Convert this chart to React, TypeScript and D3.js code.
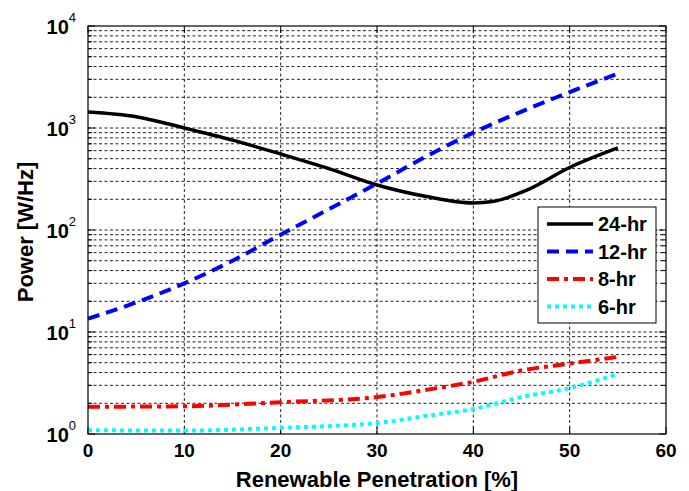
import React, { useEffect, useRef } from "react";
import * as d3 from "d3";

// Renewable penetration [%] and power [W/Hz] per storage duration
const pen24 = [0, 5, 10, 15, 20, 25, 30, 35, 40, 42, 45.5, 50, 55];
const pow24 = [1435, 1290, 1000, 760, 556, 400, 276, 214, 184, 190, 245, 410, 637];

const pen12 = [0, 5, 10, 15, 20, 25, 30, 35, 40, 45, 50, 55];
const pow12 = [13.5, 19.5, 30, 50, 90, 160, 285, 520, 900, 1450, 2250, 3400];

const pen8 = [0, 10, 20, 30, 35, 40, 45, 50, 55];
const pow8 = [1.85, 1.87, 2.05, 2.3, 2.7, 3.25, 4.2, 4.9, 5.7];

const pen6 = [0, 10, 20, 30, 35, 40, 45, 50, 55];
const pow6 = [1.09, 1.08, 1.15, 1.28, 1.5, 1.76, 2.3, 2.82, 3.87];

const seriesNames = ["24-hr", "12-hr", "8-hr", "6-hr"];
const xTicks = [0, 10, 20, 30, 40, 50, 60];
const yDecades = [0, 1, 2, 3, 4];

const App = () => {
  const chartRef = useRef(null);

  useEffect(() => {
    const width = 689;
    const height = 491;
    const margin = { top: 26, right: 23, bottom: 57, left: 88 };

    const x = d3.scaleLinear().domain([0, 60]).range([margin.left, width - margin.right]);
    const y = d3.scaleLog().domain([1, 10000]).range([height - margin.bottom, margin.top]);

    const svg = d3.select(chartRef.current)
      .append("svg")
      .attr("width", width)
      .attr("height", height)
      .style("display", "block")
      .style("font-family", "Arial, 'Liberation Sans', sans-serif");

    svg.append("rect").attr("width", width).attr("height", height).attr("fill", "white");

    const [x0, x1] = x.range();
    const [yb, yt] = y.range();

    // grid
    const grid = svg.append("g")
      .attr("stroke", "#222")
      .attr("stroke-width", 1)
      .attr("stroke-dasharray", "3,2.5");

    const minor: number[] = [];
    yDecades.slice(0, -1).forEach(e => {
      for (let k = 1; k <= 9; k++) minor.push(k * Math.pow(10, e));
    });
    minor.push(10000);

    grid.selectAll("line.h")
      .data(minor.filter(v => v > 1 && v < 10000))
      .join("line")
      .attr("x1", x0).attr("x2", x1)
      .attr("y1", d => y(d)).attr("y2", d => y(d));

    grid.selectAll("line.v")
      .data(xTicks.slice(1, -1))
      .join("line")
      .attr("class", "v")
      .attr("x1", d => x(d)).attr("x2", d => x(d))
      .attr("y1", yb).attr("y2", yt);

    // ticks (inside, both sides)
    const ticks = svg.append("g").attr("stroke", "#000").attr("stroke-width", 1);
    minor.forEach(v => {
      const len = Number.isInteger(Math.log10(v)) ? 7 : 4;
      const yy = y(v);
      ticks.append("line").attr("x1", x0).attr("x2", x0 + len).attr("y1", yy).attr("y2", yy);
      ticks.append("line").attr("x1", x1).attr("x2", x1 - len).attr("y1", yy).attr("y2", yy);
    });
    xTicks.forEach(v => {
      ticks.append("line").attr("x1", x(v)).attr("x2", x(v)).attr("y1", yb).attr("y2", yb - 7);
      ticks.append("line").attr("x1", x(v)).attr("x2", x(v)).attr("y1", yt).attr("y2", yt + 7);
    });

    // series
    const line = d3.line<[number, number]>()
      .x(d => x(d[0]))
      .y(d => y(d[1]))
      .curve(d3.curveMonotoneX);

    const series = [
      { name: seriesNames[0], xs: pen24, ys: pow24, color: "#000000", dash: null, w: 3.5 },
      { name: seriesNames[1], xs: pen12, ys: pow12, color: "#0000ff", dash: "12,7", w: 4 },
      { name: seriesNames[2], xs: pen8, ys: pow8, color: "#ff0000", dash: "12,5,4,5", w: 4 },
      { name: seriesNames[3], xs: pen6, ys: pow6, color: "#00ffff", dash: "4,4", w: 4 }
    ];

    const plot = svg.append("g");
    series.forEach(s => {
      const pts = s.xs.map((v, i) => [v, s.ys[i]] as [number, number]);
      plot.append("path")
        .attr("d", line(pts))
        .attr("fill", "none")
        .attr("stroke", s.color)
        .attr("stroke-width", s.w)
        .attr("stroke-dasharray", s.dash);
    });

    // frame
    svg.append("rect")
      .attr("x", x0).attr("y", yt)
      .attr("width", x1 - x0).attr("height", yb - yt)
      .attr("fill", "none")
      .attr("stroke", "#000")
      .attr("stroke-width", 1.2);

    // x tick labels
    svg.append("g")
      .selectAll("text")
      .data(xTicks)
      .join("text")
      .attr("x", d => x(d))
      .attr("y", yb + 23)
      .attr("text-anchor", "middle")
      .style("font-size", "19px")
      .style("font-weight", "bold")
      .text(d => d);

    // y tick labels
    const yl = svg.append("g")
      .selectAll("text")
      .data(yDecades)
      .join("text")
      .attr("x", x0 - 12)
      .attr("y", d => y(Math.pow(10, d)) + 8)
      .attr("text-anchor", "end")
      .style("font-size", "20px")
      .style("font-weight", "bold");
    yl.append("tspan").text("10");
    yl.append("tspan")
      .attr("dy", -12)
      .style("font-size", "13px")
      .style("font-weight", "normal")
      .text(d => d);

    // axis labels
    svg.append("text")
      .attr("x", (x0 + x1) / 2)
      .attr("y", height - 4)
      .attr("text-anchor", "middle")
      .style("font-size", "22px")
      .style("font-weight", "bold")
      .text("Renewable Penetration [%]");

    svg.append("text")
      .attr("transform", `translate(33,${(yt + yb) / 2 + 2}) rotate(-90)`)
      .attr("text-anchor", "middle")
      .style("font-size", "22px")
      .style("font-weight", "bold")
      .text("Power [W/Hz]");

    // legend
    const lg = svg.append("g").attr("transform", "translate(538,207)");
    lg.append("rect")
      .attr("width", 118).attr("height", 116)
      .attr("fill", "white")
      .attr("stroke", "#000")
      .attr("stroke-width", 1);
    series.forEach((s, i) => {
      const yy = 17 + i * 27.5;
      lg.append("line")
        .attr("x1", 9).attr("x2", 55)
        .attr("y1", yy).attr("y2", yy)
        .attr("stroke", s.color)
        .attr("stroke-width", s.w)
        .attr("stroke-dasharray", s.dash);
      lg.append("text")
        .attr("x", 60).attr("y", yy + 7)
        .style("font-size", "20px")
        .style("font-weight", "bold")
        .text(s.name);
    });

    return () => {
      d3.select(chartRef.current).select("svg").remove();
    };
  }, []);

  return <div ref={chartRef} style={{ position: "absolute", left: 0, top: 0 }}></div>;
};

export default App;
